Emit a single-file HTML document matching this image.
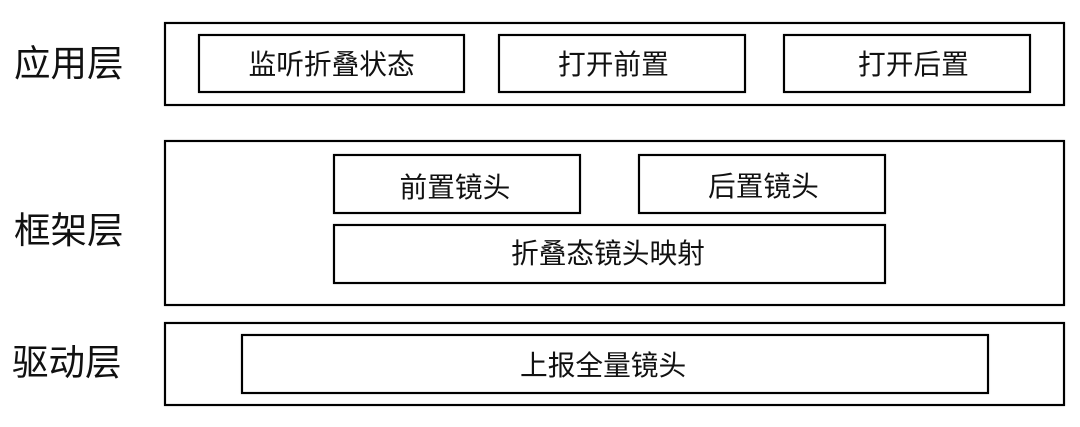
<!DOCTYPE html>
<html><head><meta charset="utf-8">
<style>
html,body{margin:0;padding:0;background:#fff}
#c{position:relative;width:1080px;height:427px;overflow:hidden;background:#fff;font-family:"Liberation Sans","Noto Sans CJK SC",sans-serif;color:#111}
.b{position:absolute;box-sizing:border-box;border:2px solid #000;box-shadow:0 0 1px rgba(0,0,0,.55),inset 0 0 1px rgba(0,0,0,.55)}
.t{position:absolute;font-size:27.7px;line-height:1;white-space:nowrap;filter:blur(0.3px)}
.l{position:absolute;font-size:36.5px;line-height:1;white-space:nowrap;filter:blur(0.3px)}
</style></head><body><div id="c">
<div class="l" style="left:14px;top:45.5px">应用层</div>
<div class="l" style="left:14px;top:213px">框架层</div>
<div class="l" style="left:12px;top:345px">驱动层</div>
<div class="b" style="left:164px;top:22px;width:901px;height:84px"></div>
<div class="b" style="left:164px;top:140px;width:901px;height:166px"></div>
<div class="b" style="left:164px;top:322px;width:901px;height:84px"></div>
<div class="b" style="left:198px;top:34px;width:267px;height:59px"></div>
<div class="t" style="left:248.5px;top:51px">监听折叠状态</div>
<div class="b" style="left:498px;top:34px;width:248px;height:59px"></div>
<div class="t" style="left:558px;top:51px">打开前置</div>
<div class="b" style="left:783px;top:34px;width:248px;height:59px"></div>
<div class="t" style="left:858px;top:51px">打开后置</div>
<div class="b" style="left:333px;top:154px;width:248px;height:60px"></div>
<div class="t" style="left:399.5px;top:173.5px">前置镜头</div>
<div class="b" style="left:638px;top:154px;width:248px;height:60px"></div>
<div class="t" style="left:708px;top:172.5px">后置镜头</div>
<div class="b" style="left:333px;top:224px;width:553px;height:60px"></div>
<div class="t" style="left:511px;top:240px">折叠态镜头映射</div>
<div class="b" style="left:241px;top:334px;width:748px;height:60px"></div>
<div class="t" style="left:520px;top:351.5px">上报全量镜头</div>
</div></body></html>
